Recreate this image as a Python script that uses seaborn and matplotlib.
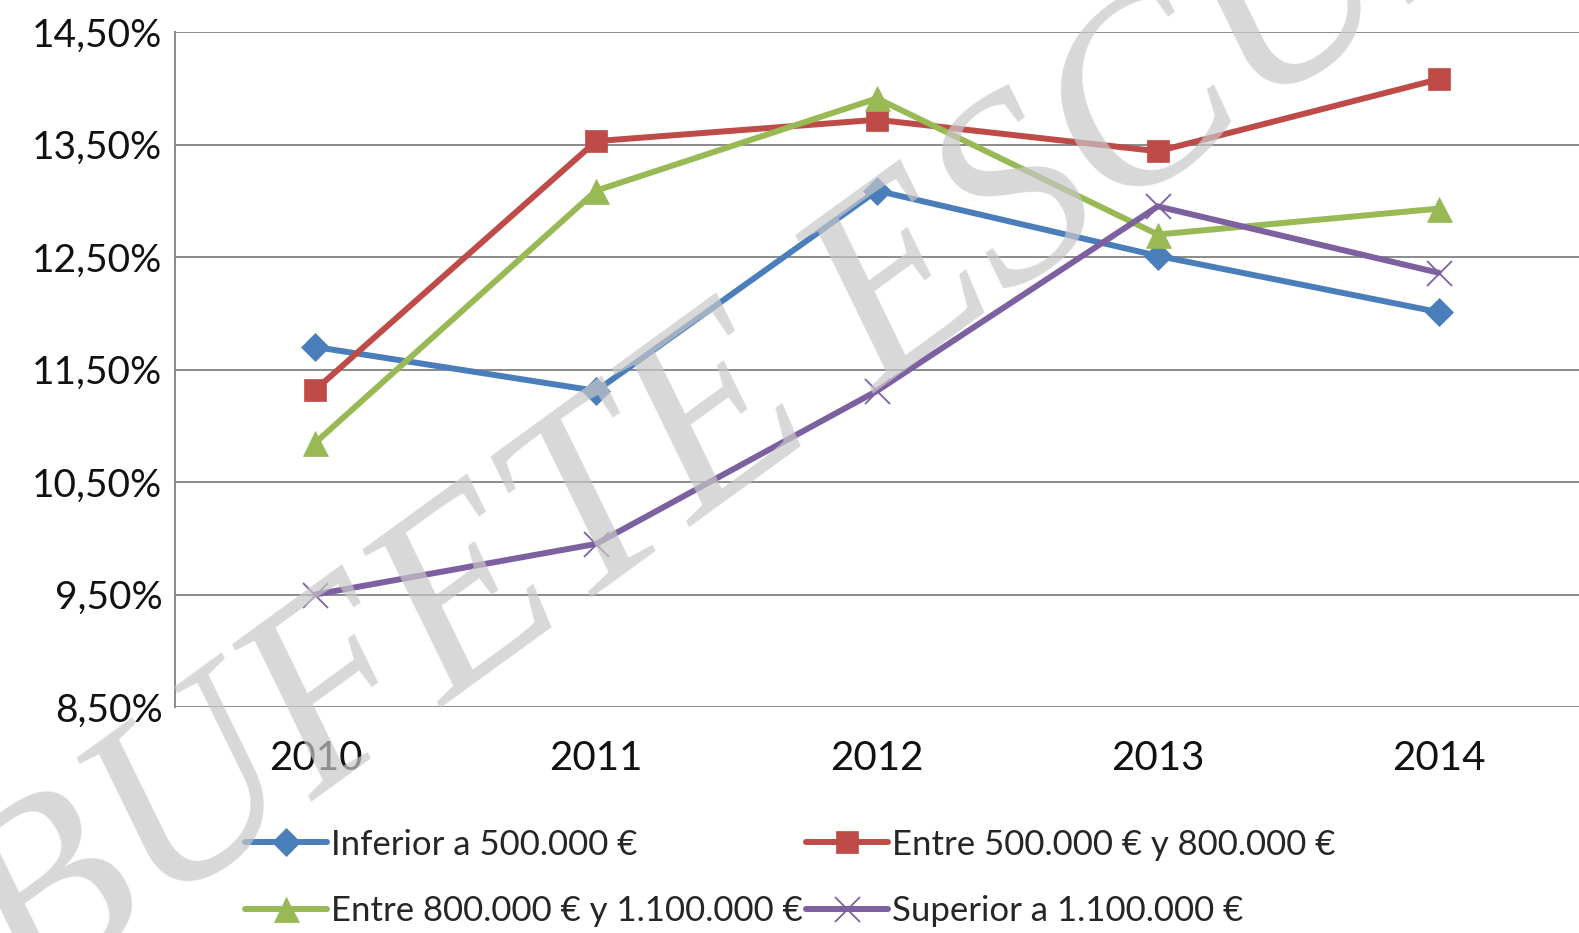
import pandas as pd
import matplotlib
matplotlib.use("Agg")
import matplotlib.pyplot as plt
import seaborn as sns
from matplotlib.ticker import FuncFormatter, FixedLocator

# Data (percent)
years = [2010, 2011, 2012, 2013, 2014]
inferior_500 = [11.70, 11.31, 13.09, 12.51, 12.01]
entre_500_800 = [11.32, 13.53, 13.72, 13.44, 14.08]
entre_800_1100 = [10.85, 13.09, 13.91, 12.70, 12.93]
superior_1100 = [9.50, 9.95, 11.31, 12.95, 12.36]

series_names = [
    "Inferior a 500.000 €",
    "Entre 500.000 € y 800.000 €",
    "Entre 800.000 € y 1.100.000 €",
    "Superior a 1.100.000 €",
]
y_ticks = [8.5, 9.5, 10.5, 11.5, 12.5, 13.5, 14.5]

colors = ["#4a7ebb", "#be4b48", "#98b954", "#7d60a0"]
markers = ["D", "s", "^", "x"]
msizes = [14, 16, 18, 18]

sns.set_theme(style="white")
plt.rcParams["font.family"] = ["Lato", "DejaVu Sans"]

fig = plt.figure(figsize=(15.79, 9.33), dpi=100)
ax = fig.add_axes([175 / 1579, 1 - 707 / 933, 1 - 175 / 1579, (707 - 32) / 933])

values = [inferior_500, entre_500_800, entre_800_1100, superior_1100]
handles = []
for name, vals, c, m, ms in zip(series_names, values, colors, markers, msizes):
    df = pd.DataFrame({"year": years, "value": vals})
    sns.lineplot(data=df, x="year", y="value", ax=ax, color=c, linewidth=4.3,
                 marker=m, markersize=ms, markeredgecolor=c,
                 markeredgewidth=1.3 if m == "x" else 0.5, label=name, legend=False)
    handles.append(ax.lines[-1])

ax.set_xlim(2009.5, 2014.5)
ax.set_ylim(8.5, 14.5)
ax.xaxis.set_major_locator(FixedLocator(years))
ax.yaxis.set_major_locator(FixedLocator(y_ticks))
ax.yaxis.set_major_formatter(FuncFormatter(lambda v, p: f"{v:.2f}%".replace(".", ",")))
ax.set_xlabel("")
ax.set_ylabel("")
ax.grid(axis="y", color="#8a8a8a", linewidth=1.4)
ax.set_axisbelow(True)
for s in ["top", "right", "bottom"]:
    ax.spines[s].set_visible(False)
ax.spines["left"].set_color("#8a8a8a")
ax.spines["left"].set_linewidth(1.4)
ax.tick_params(axis="y", length=0, pad=9, labelsize=28, labelcolor="#111111")
ax.tick_params(axis="x", length=0, pad=24, labelsize=29, labelcolor="#111111")

# legend laid out row by row like the original
order = [0, 2, 1, 3]
leg = fig.legend([handles[i] for i in order], [series_names[i] for i in order],
                 ncol=2, loc="center left", bbox_to_anchor=(245 / 1579, 1 - 878 / 933),
                 frameon=False, handlelength=2.35, handletextpad=0.12,
                 columnspacing=0.1, labelspacing=1.0, borderpad=0, borderaxespad=0,
                 prop={"family": ["Liberation Sans Narrow", "Lato"], "size": 25})

# watermark
fig.text(0.018, -0.08, "BUFETE ESCURA", fontsize=190, family="Liberation Serif",
         style="italic", color="#c8c8c8", alpha=0.7, rotation=36,
         rotation_mode="anchor", ha="left", va="baseline", zorder=10)

fig.savefig("out.png", dpi=100)
